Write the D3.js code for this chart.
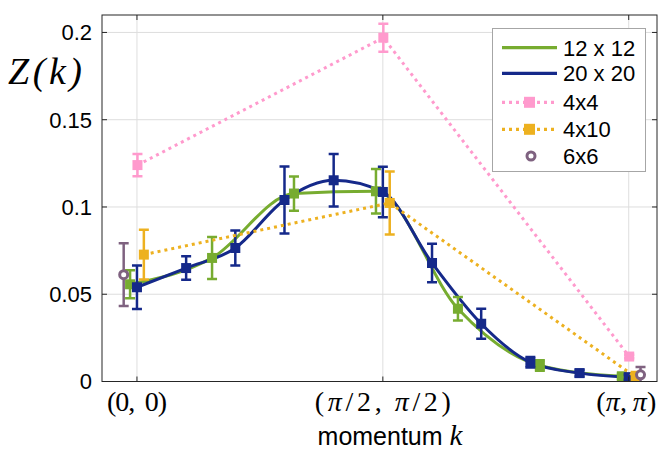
<!DOCTYPE html>
<html>
<head>
<meta charset="utf-8">
<script src="https://cdn.jsdelivr.net/npm/d3@7/dist/d3.min.js"></script>
<style>
  body { margin: 0; background: #fff; }
  text { font-family: "Liberation Sans", Arial, sans-serif; fill: #000; }
  .serif { font-family: "Liberation Serif", "Times New Roman", serif; }
</style>
</head>
<body>
<script>
// k along the diagonal (0,0) -> (pi,pi), in units of pi
var k20 = [0, 0.1, 0.2, 0.3, 0.4, 0.5, 0.6, 0.7, 0.8, 0.9, 1];
var z20 = [0.054, 0.065, 0.0765, 0.104, 0.1153, 0.1086, 0.0679, 0.0331, 0.011, 0.0048, 0.0025];
var e20 = [0.0125, 0.0067, 0.01, 0.0192, 0.015, 0.0145, 0.011, 0.0086, 0.003, 0.002, 0.0015];

var k12 = [0, 0.1667, 0.3333, 0.5, 0.6667, 0.8333, 1];
var z12 = [0.0557, 0.0708, 0.1077, 0.109, 0.0417, 0.0092, 0.003];
var e12 = [0.008, 0.012, 0.0098, 0.0128, 0.0067, 0.003, 0.0015];

var k4 = [0, 0.5, 1];
var z4 = [0.124, 0.197, 0.0143];
var e4 = [0.0064, 0.008, 0.001];

var k10 = [0, 0.5, 1];
var z10 = [0.0727, 0.1023, 0.0025];
var e10 = [0.0143, 0.018, 0.003];

var k6 = [0, 1];
var z6 = [0.0612, 0.0038];
var e6 = [0.018, 0.0045];

var yTicks = [0, 0.05, 0.1, 0.15, 0.2];
var xTicks = [0, 0.5, 1];
var xTickLabels = [["(0,\u2009 0)"], ["(", "π", "/2,\u2009", "π", "/2)"], ["(", "π", ",\u2009", "π", ")"]];

var svgWidth = 659, svgHeight = 453;
var plotL = 102, plotR = 657, plotT = 15, plotB = 381.5;

var svg = d3.select("body").append("svg")
  .attr("width", svgWidth)
  .attr("height", svgHeight);

var x = d3.scaleLinear().domain([-0.0711, 1.0575]).range([plotL, plotR]);
var y = d3.scaleLinear().domain([0, 0.21]).range([plotB, plotT]);

// grid
svg.append("g").selectAll("line").data(xTicks).enter().append("line")
  .attr("x1", d => x(d)).attr("x2", d => x(d))
  .attr("y1", plotT).attr("y2", plotB)
  .attr("stroke", "#dedede").attr("stroke-width", 1);
svg.append("g").selectAll("line").data(yTicks).enter().append("line")
  .attr("x1", plotL).attr("x2", plotR)
  .attr("y1", d => y(d)).attr("y2", d => y(d))
  .attr("stroke", "#dedede").attr("stroke-width", 1);

svg.append("clipPath").attr("id", "plot")
  .append("rect").attr("x", plotL).attr("y", plotT)
  .attr("width", plotR - plotL).attr("height", plotB - plotT);

var plot = svg.append("g").attr("clip-path", "url(#plot)");

var green = "#77ac30", navy = "#15298a", pink = "#ff9acd", yellow = "#edb120", mauve = "#7f6280";

function pts(ks, zs, es, shift) {
  return ks.map((k, i) => ({ k: k + (Array.isArray(shift) ? shift[i] : shift), z: zs[i], e: es[i] }));
}

var s12 = pts(k12, z12, e12, -0.014);
var s20 = pts(k20, z20, e20, 0);
var s4 = pts(k4, z4, e4, 0.001);
var s10 = pts(k10, z10, e10, 0.014);
var s6 = pts(k6, z6, e6, [-0.027, 0.024]);

var line = d3.line().x(d => x(d.k)).y(d => y(d.z));

// smooth curves
plot.append("path").datum(s12)
  .attr("d", line.curve(d3.curveMonotoneX))
  .attr("fill", "none").attr("stroke", green).attr("stroke-width", 3);
plot.append("path").datum(s20)
  .attr("d", line.curve(d3.curveMonotoneX))
  .attr("fill", "none").attr("stroke", navy).attr("stroke-width", 3);

function errorBars(data, color) {
  var g = plot.append("g").attr("stroke", color).attr("stroke-width", 2.5);
  g.selectAll(".v").data(data).enter().append("line")
    .attr("x1", d => x(d.k)).attr("x2", d => x(d.k))
    .attr("y1", d => y(d.z - d.e)).attr("y2", d => y(d.z + d.e));
  g.selectAll(".t").data(data).enter().append("line")
    .attr("x1", d => x(d.k) - 5).attr("x2", d => x(d.k) + 5)
    .attr("y1", d => y(d.z + d.e)).attr("y2", d => y(d.z + d.e));
  g.selectAll(".b").data(data).enter().append("line")
    .attr("x1", d => x(d.k) - 5).attr("x2", d => x(d.k) + 5)
    .attr("y1", d => y(d.z - d.e)).attr("y2", d => y(d.z - d.e));
}

function squares(data, color) {
  plot.append("g").selectAll("rect").data(data).enter().append("rect")
    .attr("x", d => x(d.k) - 5).attr("y", d => y(d.z) - 5)
    .attr("width", 10).attr("height", 10)
    .attr("fill", color);
}

function dotted(data, color) {
  plot.append("path").datum(data)
    .attr("d", d3.line().x(d => x(d.k)).y(d => y(d.z)))
    .attr("fill", "none").attr("stroke", color)
    .attr("stroke-width", 3).attr("stroke-dasharray", "3 4");
}

errorBars(s12, green); squares(s12, green);
errorBars(s20, navy); squares(s20, navy);
dotted(s4, pink); errorBars(s4, pink); squares(s4, pink);
dotted(s10, yellow); errorBars(s10, yellow); squares(s10, yellow);
errorBars(s6, mauve);
plot.append("g").selectAll("circle").data(s6).enter().append("circle")
  .attr("cx", d => x(d.k)).attr("cy", d => y(d.z)).attr("r", 4)
  .attr("fill", "#fff").attr("stroke", mauve).attr("stroke-width", 3);

// axes box and inward ticks
var ax = svg.append("g").attr("stroke", "#262626").attr("stroke-width", 1);
ax.append("rect").attr("x", plotL).attr("y", plotT)
  .attr("width", plotR - plotL).attr("height", plotB - plotT).attr("fill", "none");
xTicks.forEach(function(t) {
  ax.append("line").attr("x1", x(t)).attr("x2", x(t)).attr("y1", plotB).attr("y2", plotB - 5);
  ax.append("line").attr("x1", x(t)).attr("x2", x(t)).attr("y1", plotT).attr("y2", plotT + 5);
});
yTicks.forEach(function(t) {
  ax.append("line").attr("x1", plotL).attr("x2", plotL + 5).attr("y1", y(t)).attr("y2", y(t));
  ax.append("line").attr("x1", plotR).attr("x2", plotR - 5).attr("y1", y(t)).attr("y2", y(t));
});

// tick labels
svg.append("g").selectAll("text").data(yTicks).enter().append("text")
  .attr("x", 92).attr("y", d => y(d)).attr("dy", "0.36em")
  .attr("text-anchor", "end").attr("font-size", 22)
  .text(d => String(d));

var xLabLen = [60, 136, 60];
var xLabX = [0, 0, -0.005];
xTicks.forEach(function(t, i) {
  var txt = svg.append("text").attr("class", "serif")
    .attr("x", x(t + xLabX[i])).attr("y", 411).attr("text-anchor", "middle")
    .attr("font-size", 28)
    .attr("textLength", xLabLen[i]).attr("lengthAdjust", "spacing");
  xTickLabels[i].forEach(function(part) {
    txt.append("tspan").attr("font-style", part === "π" ? "italic" : "normal").text(part);
  });
});

// axis titles
var xt = svg.append("text").attr("x", 390).attr("y", 445)
  .attr("text-anchor", "middle").attr("font-size", 25);
xt.append("tspan").text("momentum ");
xt.append("tspan").attr("class", "serif").attr("font-style", "italic")
  .attr("font-size", 29).text("k");

svg.append("text").attr("class", "serif")
  .attr("x", 8).attr("y", 84).attr("font-size", 38).attr("font-style", "italic")
  .attr("textLength", 74).attr("lengthAdjust", "spacing")
  .text("Z(k)");

// legend
var legendItems = [
  { name: "12 x 12", color: green, kind: "solid", cy: 47.7 },
  { name: "20 x 20", color: navy, kind: "solid", cy: 73.3 },
  { name: "4x4", color: pink, kind: "dot", cy: 102.3 },
  { name: "4x10", color: yellow, kind: "dot", cy: 129.3 },
  { name: "6x6", color: mauve, kind: "circle", cy: 156 }
];
var lg = svg.append("g");
lg.append("rect").attr("x", 492.5).attr("y", 28.5).attr("width", 153).attr("height", 143)
  .attr("fill", "#fff").attr("stroke", "#a6a6a6").attr("stroke-width", 1);
legendItems.forEach(function(it) {
  if (it.kind !== "circle") {
    lg.append("line").attr("x1", 502).attr("x2", 557).attr("y1", it.cy).attr("y2", it.cy)
      .attr("stroke", it.color).attr("stroke-width", 3.3)
      .attr("stroke-dasharray", it.kind === "dot" ? "3 4" : null);
  }
  if (it.kind === "dot") {
    lg.append("rect").attr("x", 524).attr("y", it.cy - 5.5).attr("width", 11).attr("height", 11)
      .attr("fill", it.color);
  }
  if (it.kind === "circle") {
    lg.append("circle").attr("cx", 531).attr("cy", it.cy).attr("r", 4)
      .attr("fill", "#fff").attr("stroke", it.color).attr("stroke-width", 3);
  }
  lg.append("text").attr("x", 563).attr("y", it.cy + 8).attr("font-size", 22).text(it.name);
});
</script>
</body>
</html>
